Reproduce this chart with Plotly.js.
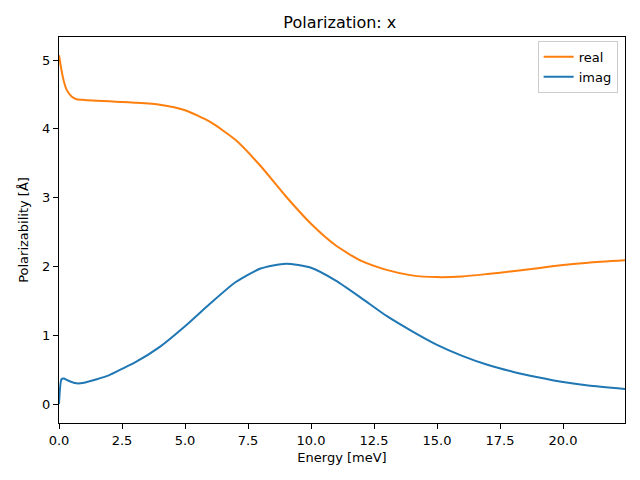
<!DOCTYPE html>
<html>
<head>
<meta charset="utf-8">
<script src="https://cdn.plot.ly/plotly-3.0.1.min.js"></script>
<style>body{margin:0;padding:0;background:#fff}#chart{width:640px;height:480px}</style>
</head>
<body>
<div id="chart"></div>
<script>
const energy = [0, 0.1, 0.2, 0.3, 0.5, 0.7, 1.0, 1.5, 2, 2.5, 3, 4, 5, 6, 7, 8, 9, 10, 11, 12, 13, 14, 15, 16, 17, 18, 19, 20, 21, 22.46];
const realVals = [5.07, 4.85, 4.68, 4.57, 4.47, 4.43, 4.42, 4.41, 4.40, 4.39, 4.38, 4.35, 4.27, 4.10, 3.84, 3.46, 3.02, 2.62, 2.30, 2.08, 1.95, 1.87, 1.845, 1.855, 1.89, 1.93, 1.975, 2.02, 2.055, 2.09];
const imagVals = [0.0, 0.36, 0.37, 0.35, 0.32, 0.30, 0.31, 0.36, 0.42, 0.51, 0.60, 0.83, 1.13, 1.46, 1.77, 1.97, 2.04, 1.98, 1.79, 1.54, 1.28, 1.06, 0.86, 0.70, 0.57, 0.47, 0.39, 0.32, 0.27, 0.22];
const xTicks = [0, 2.5, 5, 7.5, 10, 12.5, 15, 17.5, 20];
const yTicks = [0, 1, 2, 3, 4, 5];

const font = {family: 'DejaVu Sans', size: 13, color: '#000'};
const traces = [
  {x: energy, y: realVals, name: 'real', mode: 'lines', line: {color: '#ff7f0e', width: 2, shape: 'spline', smoothing: 0.6}},
  {x: energy, y: imagVals, name: 'imag', mode: 'lines', line: {color: '#1f77b4', width: 2, shape: 'spline', smoothing: 0.6}}
];
const axisCommon = {showline: true, mirror: true, linecolor: '#000', linewidth: 1, ticks: 'outside', ticklen: 5, tickwidth: 1, tickcolor: '#000', showgrid: false, zeroline: false, tickfont: font};
const layout = {
  width: 640, height: 480,
  margin: {l: 59, r: 15, t: 37, b: 57},
  paper_bgcolor: '#fff', plot_bgcolor: '#fff',
  font: font,
  title: {text: 'Polarization: x', font: {family: 'DejaVu Sans', size: 16, color: '#000'}, x: 0.531, xanchor: 'center', y: 0.953, yanchor: 'middle'},
  xaxis: Object.assign({}, axisCommon, {range: [0, 22.46], tickvals: xTicks, ticktext: xTicks.map(v => v.toFixed(1)), title: {text: 'Energy [meV]', font: font, standoff: 6}}),
  yaxis: Object.assign({}, axisCommon, {range: [-0.276, 5.335], tickvals: yTicks, title: {text: 'Polarizability [Å]', font: font, standoff: 10}}),
  legend: {x: 0.987, y: 0.99, xanchor: 'right', yanchor: 'top', bordercolor: '#cccccc', borderwidth: 1, bgcolor: 'rgba(255,255,255,0.8)', font: font, tracegroupgap: 0},
  showlegend: true
};
Plotly.newPlot('chart', traces, layout, {displayModeBar: false, staticPlot: true});
</script>
</body>
</html>
